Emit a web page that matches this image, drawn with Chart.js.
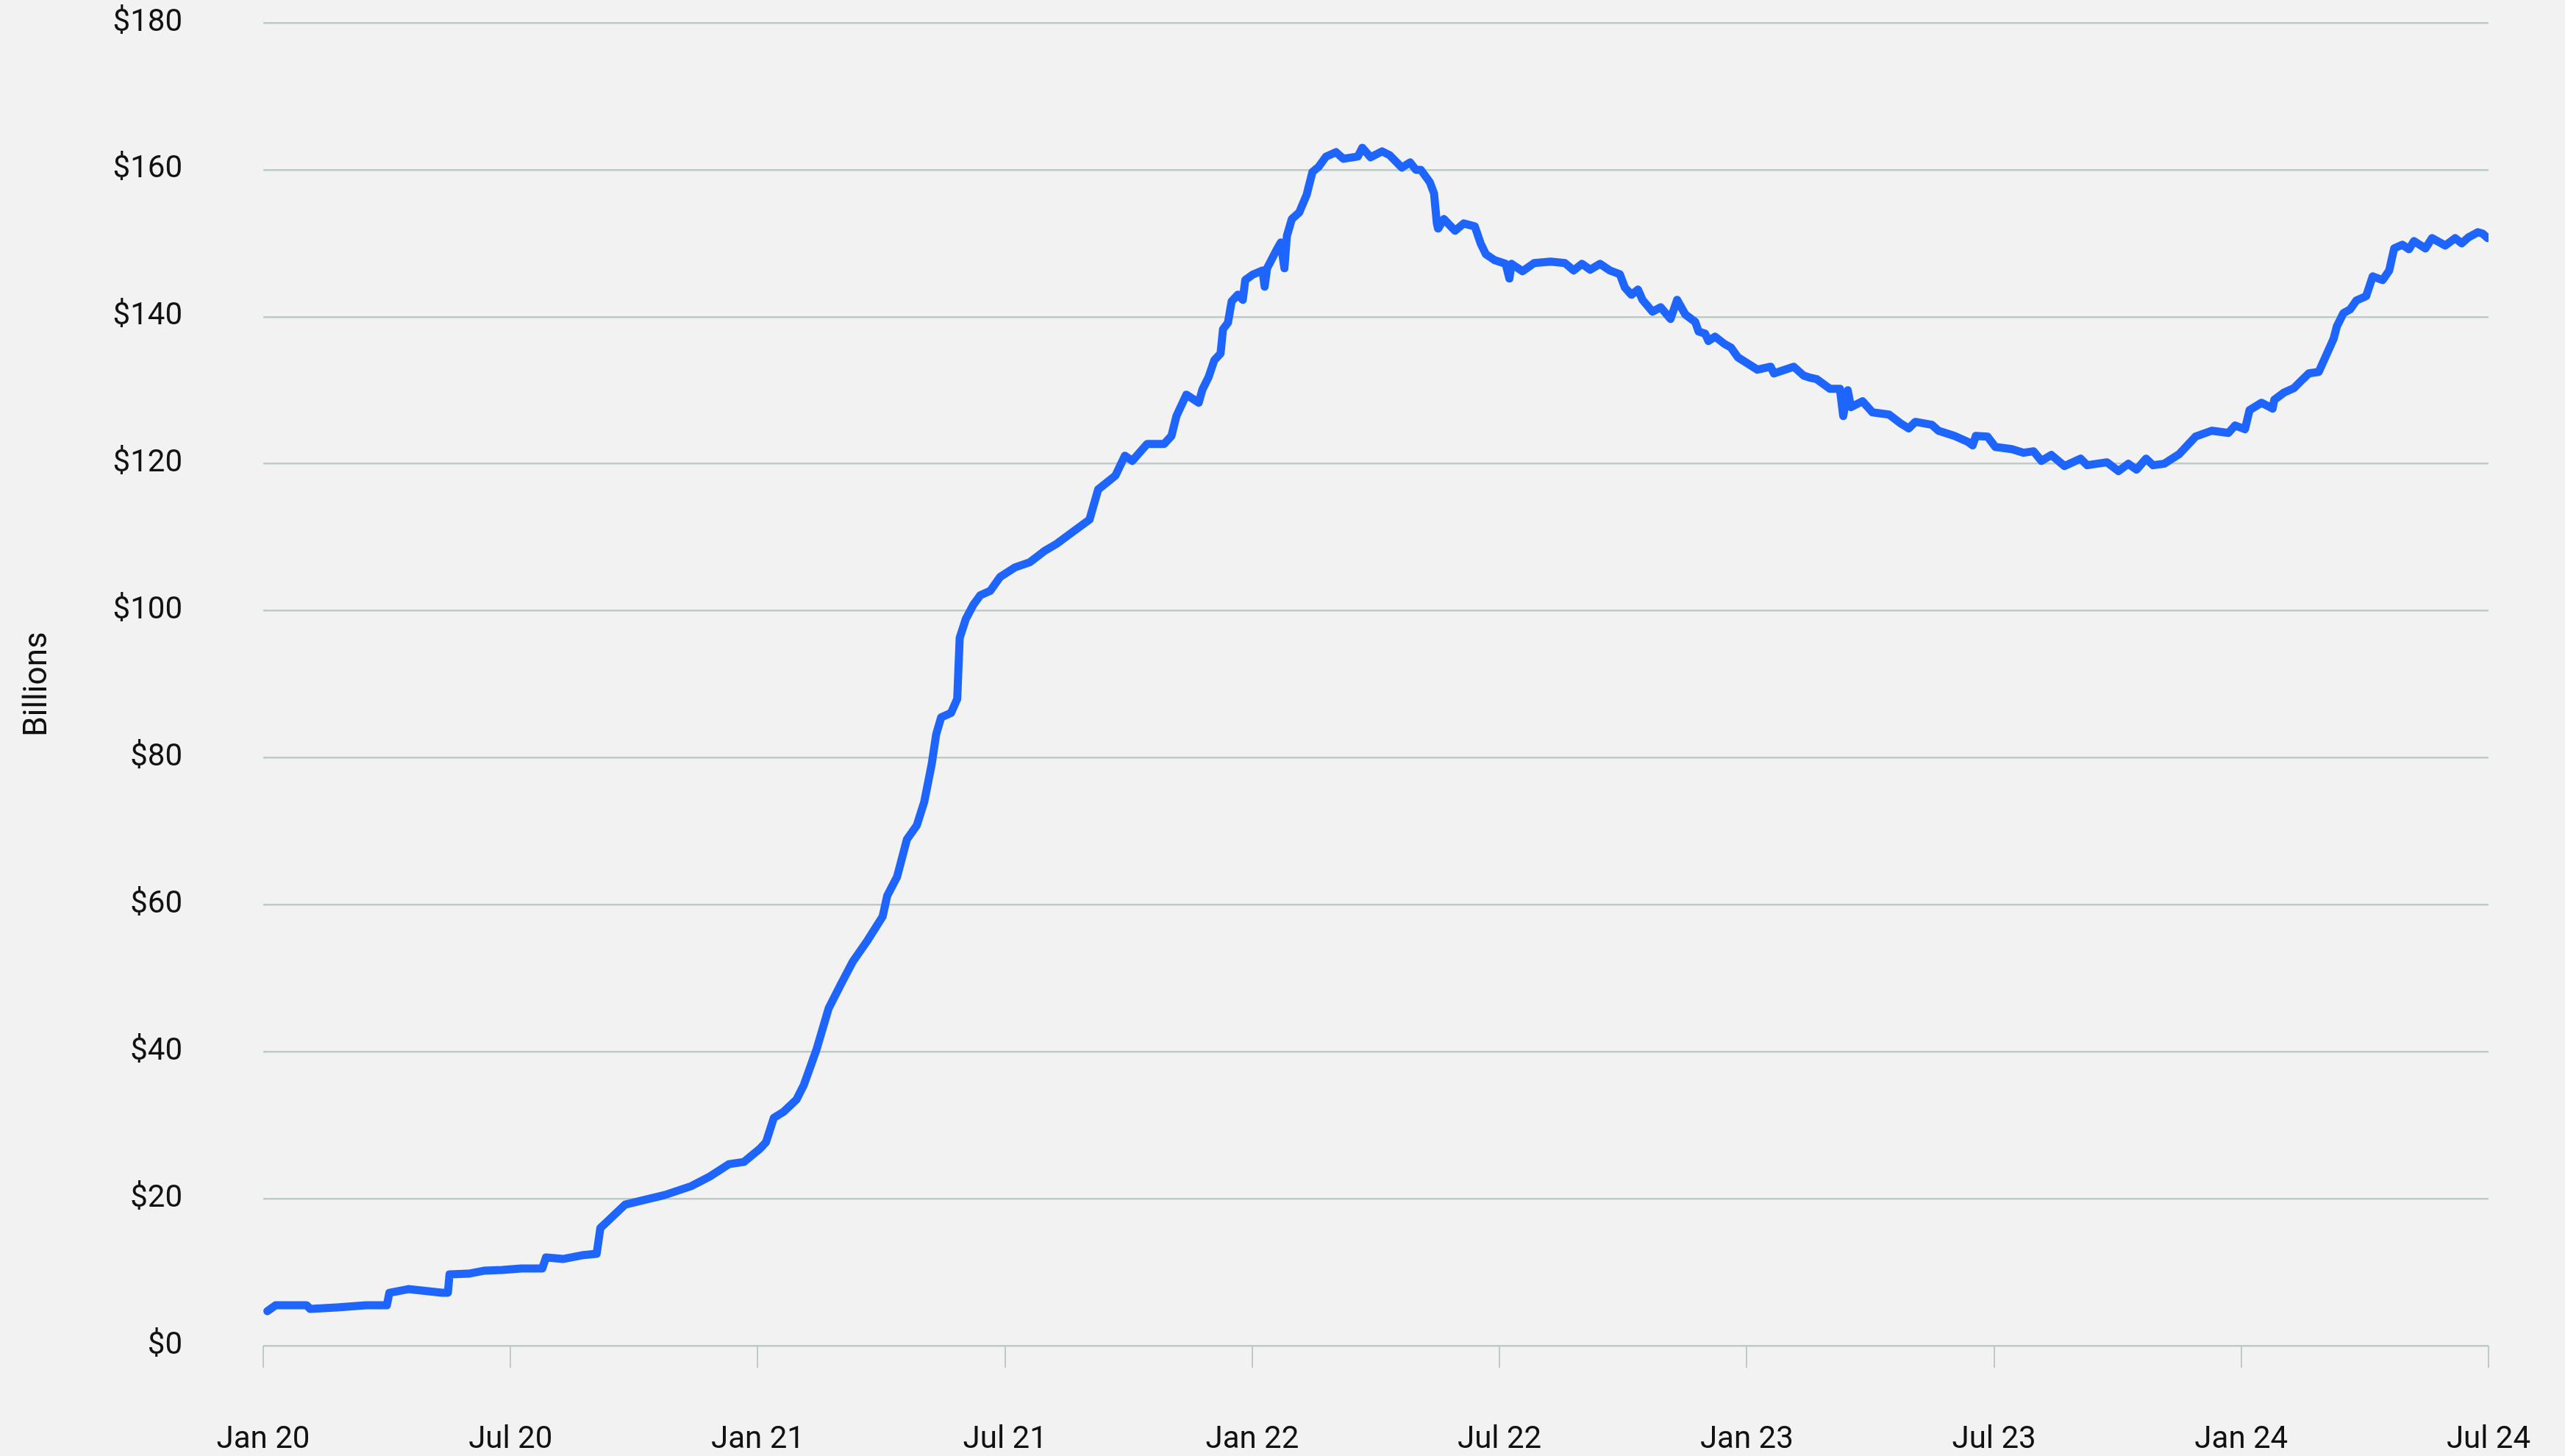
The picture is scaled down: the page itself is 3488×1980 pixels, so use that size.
<!DOCTYPE html>
<html>
<head>
<meta charset="utf-8">
<script src="https://cdn.jsdelivr.net/npm/chart.js@4.4.1/dist/chart.umd.min.js"></script>
<style>
  html, body { margin: 0; padding: 0; background: #f2f2f2; }
  #wrap { width: 3488px; height: 1980px; }
  canvas { background: #f2f2f2; }
</style>
</head>
<body>
<div id="wrap"><canvas id="chart" width="3488" height="1980"></canvas></div>
<script>
// x position = months since Jan 2020
const months = [
  0.1, 0.3, 1.05, 1.14, 1.78, 2.5, 3.0, 3.06, 3.52, 4.34, 4.48, 4.52, 4.98, 5.35, 5.8, 6.26, 6.77, 6.86,
  7.27, 7.73, 8.09, 8.18, 8.37, 8.78, 9.37, 9.74, 10.38, 10.83, 11.3, 11.66, 12.05, 12.2, 12.39, 12.62,
  12.94, 13.12, 13.42, 13.72, 14.01, 14.31, 14.67, 15.03, 15.14, 15.38, 15.62, 15.86, 16.04, 16.22, 16.33,
  16.45, 16.69, 16.84, 16.9, 17.05, 17.23, 17.4, 17.64, 17.88, 18.24, 18.6, 18.95, 19.25, 19.66, 20.05,
  20.26, 20.68, 20.91, 21.09, 21.45, 21.86, 22.04, 22.16, 22.4, 22.7, 22.79, 22.94, 23.08, 23.23, 23.29,
  23.41, 23.5, 23.65, 23.77, 23.83, 24.0, 24.25, 24.3, 24.36, 24.6, 24.69, 24.78, 24.84, 24.96, 25.14,
  25.32, 25.46, 25.61, 25.79, 26.03, 26.21, 26.56, 26.67, 26.87, 27.15, 27.33, 27.63, 27.83, 27.97, 28.09,
  28.31, 28.41, 28.48, 28.51, 28.65, 28.82, 28.92, 29.13, 29.4, 29.54, 29.67, 29.88, 30.15, 30.24, 30.29,
  30.56, 30.84, 31.24, 31.59, 31.8, 32.0, 32.2, 32.44, 32.68, 32.92, 33.04, 33.2, 33.36, 33.47, 33.71,
  33.91, 34.15, 34.31, 34.51, 34.75, 34.83, 34.99, 35.07, 35.23, 35.46, 35.62, 35.78, 36.26, 36.58, 36.66,
  37.14, 37.38, 37.54, 37.7, 38.02, 38.26, 38.34, 38.45, 38.53, 38.81, 39.05, 39.45, 39.73, 39.93, 40.09,
  40.49, 40.65, 41.04, 41.36, 41.48, 41.56, 41.84, 42.03, 42.43, 42.72, 42.96, 43.15, 43.39, 43.71, 44.1,
  44.26, 44.74, 45.02, 45.26, 45.46, 45.69, 45.86, 46.13, 46.49, 46.89, 47.29, 47.69, 47.85, 48.09, 48.2,
  48.49, 48.76, 48.8, 49.04, 49.28, 49.44, 49.64, 49.88, 50.08, 50.24, 50.32, 50.48, 50.64, 50.79, 51.03,
  51.19, 51.43, 51.59, 51.71, 51.91, 52.07, 52.19, 52.47, 52.63, 52.95, 53.19, 53.35, 53.51, 53.74, 53.86,
  53.98
];

// billions of dollars
const values = [
  4.7, 5.5, 5.5, 5.0, 5.2, 5.5, 5.5, 7.2, 7.7, 7.2, 7.2, 9.7, 9.8, 10.2, 10.3, 10.5, 10.5, 12.0,
  11.8, 12.3, 12.5, 16.0, 17.0, 19.2, 20.0, 20.5, 21.7, 23.0, 24.7, 25.0, 26.8, 27.7, 31.0, 31.8,
  33.5, 35.5, 40.2, 45.9, 49.1, 52.3, 55.2, 58.4, 61.2, 63.8, 68.9, 70.8, 74.0, 79.1, 83.2,
  85.5, 86.1, 88.0, 96.3, 98.9, 100.8, 102.1, 102.7, 104.6, 105.9, 106.6, 108.1, 109.1, 110.8, 112.4,
  116.5, 118.4, 121.1, 120.4, 122.7, 122.7, 123.8, 126.5, 129.4, 128.3, 130.1, 131.8, 134.1, 135.0, 138.3,
  139.2, 142.1, 143.0, 142.3, 145.0, 145.7, 146.3, 144.1, 146.6, 149.2, 150.1, 146.6, 151.0, 153.3, 154.2,
  156.6, 159.7, 160.4, 161.8, 162.4, 161.5, 161.8, 163.0, 161.7, 162.5, 162.0, 160.3, 161.0, 160.0, 160.0,
  158.3, 156.8, 152.7, 152.0, 153.3, 152.3, 151.7, 152.7, 152.3, 150.0, 148.5, 147.7, 147.2, 145.2, 147.2,
  146.2, 147.3, 147.5, 147.3, 146.3, 147.2, 146.4, 147.2, 146.3, 145.8, 144.0, 143.0, 143.7, 142.3, 140.7,
  141.3, 139.7, 142.3, 140.3, 139.3, 138.0, 137.7, 136.7, 137.3, 136.3, 135.8, 134.5, 132.8, 133.2, 132.3,
  133.2, 132.0, 131.7, 131.5, 130.2, 130.2, 126.5, 130.0, 127.7, 128.5, 127.0, 126.7, 125.5, 124.8, 125.7,
  125.3, 124.5, 123.8, 123.0, 122.5, 123.8, 123.7, 122.3, 122.0, 121.5, 121.7, 120.4, 121.2, 119.7, 120.7,
  119.8, 120.2, 119.0, 120.0, 119.2, 120.7, 119.8, 120.0, 121.3, 123.7, 124.5, 124.2, 125.2, 124.7, 127.3,
  128.3, 127.5, 128.7, 129.7, 130.3, 131.2, 132.3, 132.5, 135.0, 137.0, 138.7, 140.5, 141.0, 142.2, 142.8,
  145.5, 145.0, 146.3, 149.3, 149.8, 149.2, 150.3, 149.3, 150.7, 149.7, 150.7, 150.0, 150.8, 151.5, 151.3,
  150.7
];

const xTickLabels = ['Jan 20', 'Jul 20', 'Jan 21', 'Jul 21', 'Jan 22', 'Jul 22', 'Jan 23', 'Jul 23', 'Jan 24', 'Jul 24'];
const yTicks = [0, 20, 40, 60, 80, 100, 120, 140, 160, 180];

const gridColor = '#bccac8';
const textColor = '#111111';
const fontFamily = 'Roboto, "Noto Sans", sans-serif';

const points = months.map((m, i) => ({ x: m, y: values[i] }));

const ctx = document.getElementById('chart').getContext('2d');
new Chart(ctx, {
  type: 'line',
  data: {
    datasets: [{
      data: points,
      borderColor: '#1e64ff',
      borderWidth: 11,
      pointRadius: 0,
      tension: 0,
      borderJoinStyle: 'round',
      borderCapStyle: 'round',
      fill: false
    }]
  },
  options: {
    responsive: false,
    devicePixelRatio: 1,
    animation: false,
    layout: { padding: { top: 31, right: 104, bottom: 0, left: 0 } },
    plugins: {
      legend: { display: false },
      tooltip: { enabled: false }
    },
    scales: {
      x: {
        type: 'linear',
        min: 0,
        max: 54,
        afterFit: (scale) => {
          scale.height = 150;
          scale.paddingLeft = 0;
          scale.paddingRight = 0;
        },
        afterBuildTicks: (scale) => {
          scale.ticks = xTickLabels.map((_, i) => ({ value: i * 6 }));
        },
        grid: {
          drawOnChartArea: false,
          drawTicks: true,
          tickLength: 30,
          color: gridColor,
          lineWidth: 2
        },
        border: { display: false },
        ticks: {
          autoSkip: false,
          maxRotation: 0,
          padding: 73,
          color: textColor,
          font: { family: fontFamily, size: 42 },
          callback: (v) => xTickLabels[Math.round(v / 6)]
        }
      },
      y: {
        min: 0,
        max: 180,
        afterFit: (scale) => {
          scale.width = 358;
          scale.paddingTop = 0;
          scale.paddingBottom = 0;
        },
        afterBuildTicks: (scale) => {
          scale.ticks = yTicks.map((v) => ({ value: v }));
        },
        grid: {
          drawTicks: false,
          color: gridColor,
          lineWidth: 2.5
        },
        border: { display: false },
        ticks: {
          padding: 110,
          color: textColor,
          font: { family: fontFamily, size: 42 },
          callback: (v) => '$' + v
        },
        title: {
          display: true,
          text: 'Billions',
          color: textColor,
          font: { family: fontFamily, size: 44 },
          padding: { top: 26, bottom: 0 }
        }
      }
    }
  }
});
</script>
</body>
</html>
